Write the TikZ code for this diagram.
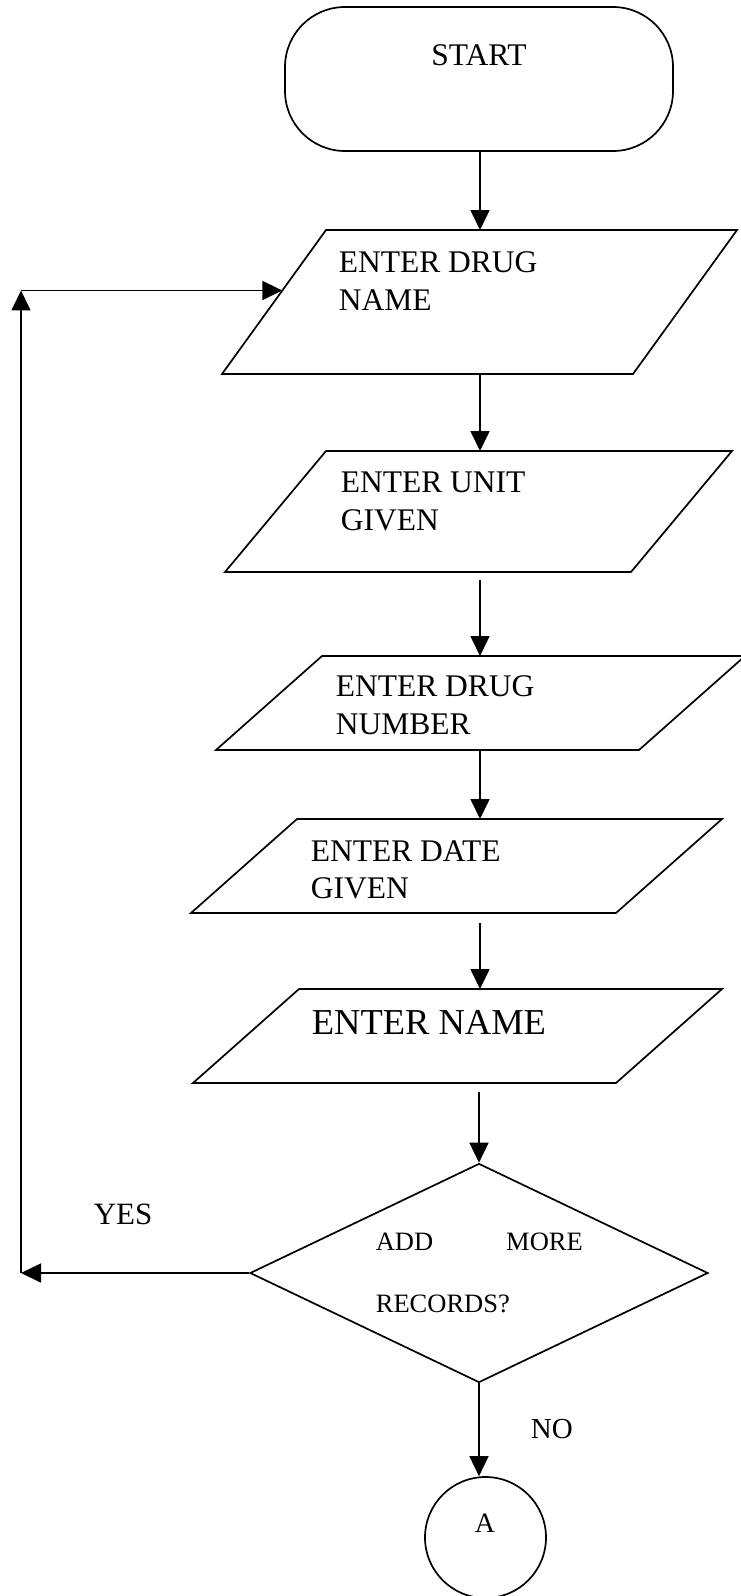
\documentclass[tikz,border=0pt]{standalone}
\usepackage{fontspec}
\setmainfont{Liberation Serif}
\usetikzlibrary{arrows.meta,shapes.geometric,calc}
% outline of a slanted input box drawn inside an invisible rectangle node
\newcommand\drawpara[2]{\draw ([xshift=#2]#1.north west) -- (#1.north east) -- ([xshift=-#2]#1.south east) -- (#1.south west) -- cycle;}
\begin{document}
\begin{tikzpicture}[x=1pt,y=-1pt,line width=1.7pt,
  arr/.style={-{Triangle[length=20pt,width=19pt]}},
  pbox/.style 2 args={minimum width=#1, minimum height=#2, inner sep=0pt, outer sep=0pt},
  txt/.style={inner sep=0pt, align=left, anchor=north west, font=\fontsize{31.5}{37.5}\selectfont},
  terminal/.style={draw, rounded corners=60pt, minimum width=388pt, minimum height=144pt, inner sep=0pt},
  decision/.style={draw, diamond, minimum width=458pt, minimum height=219pt, inner sep=0pt},
  connector/.style={draw, circle, minimum size=121pt, inner sep=0pt}]
\useasboundingbox (0,0) rectangle (740,1596);

% vertical flow axis and the return line on the left
\coordinate (axis) at (480,0);
\coordinate (back) at (21,0);

% start terminal
\node[terminal] (start) at (479,79) {};
\node[inner sep=0pt, font=\fontsize{31.5}{37}\selectfont] (startlbl) at (479,55.5) {START};

% input boxes
\node[pbox={515pt}{144pt}] (p1) at (479.5,302) {};
\drawpara{p1}{104pt}
\node[txt, font=\fontsize{31.5}{38.5}\selectfont] (t1) at (338,250.6) {ENTER DRUG\\NAME};

\node[pbox={507pt}{121pt}] (p2) at (478.5,511.5) {};
\drawpara{p2}{101pt}
\node[txt, font=\fontsize{31.5}{37.3}\selectfont] (t2) at (340,471.3) {ENTER UNIT\\GIVEN};

\node[pbox={529pt}{94pt}] (p3) at (480.5,703) {};
\drawpara{p3}{106pt}
\node[txt, font=\fontsize{31.5}{38.5}\selectfont] (t3) at (335,674.6) {ENTER DRUG\\NUMBER};

\node[pbox={531pt}{94pt}] (p4) at (456.5,866) {};
\drawpara{p4}{106pt}
\node[txt] (t4) at (310,839.6) {ENTER DATE\\GIVEN};

\node[pbox={529pt}{94pt}] (p5) at (457.5,1036) {};
\drawpara{p5}{106pt}
\node[txt, font=\fontsize{36.5}{44}\selectfont] (t5) at (311,1010) {ENTER NAME};

% decision
\node[decision] (dec) at (479,1273) {};
\node[txt, font=\fontsize{26.5}{62}\selectfont] (dtxt) at (375,1232) {ADD\hspace{73pt}MORE\\RECORDS?};

% off-page connector
\node[connector] (A) at (485.5,1537.5) {};
\node[inner sep=0pt, font=\fontsize{28}{34}\selectfont] (Albl) at (485,1523) {A};

% main flow
\draw[arr] (start.south -| axis) -- (p1.north -| axis);
\draw[arr] (p1.south -| axis) -- (p2.north -| axis);
\draw[arr, shorten <=8pt] (p2.south -| axis) -- (p3.north -| axis);
\draw[arr] (p3.south -| axis) -- (p4.north -| axis);
\draw[arr, shorten <=10pt] (p4.south -| axis) -- (p5.north -| axis);
\draw[arr, shorten <=9pt] (p5.south -| dec.north) -- (dec.north);
\draw[arr] (dec.south) -- (dec.south |- A.north);
\node[inner sep=0pt, anchor=west, font=\fontsize{29}{35}\selectfont] (nolbl) at (530,1429) {NO};

% loop back for more records
\coordinate (p1l) at ($(p1.south west)!0.58!([xshift=104pt]p1.north west)$);
\coordinate (c1) at (dec.west -| back);
\coordinate (c2) at (p1l -| back);
\draw[arr] (dec.west) -- (c1);
\draw[arr] (c1) -- (c2);
\draw[arr] (c2) -- (p1l);
\node[inner sep=0pt, anchor=west, font=\fontsize{31}{37}\selectfont] (yeslbl) at (93,1214) {YES};
\end{tikzpicture}
\end{document}
